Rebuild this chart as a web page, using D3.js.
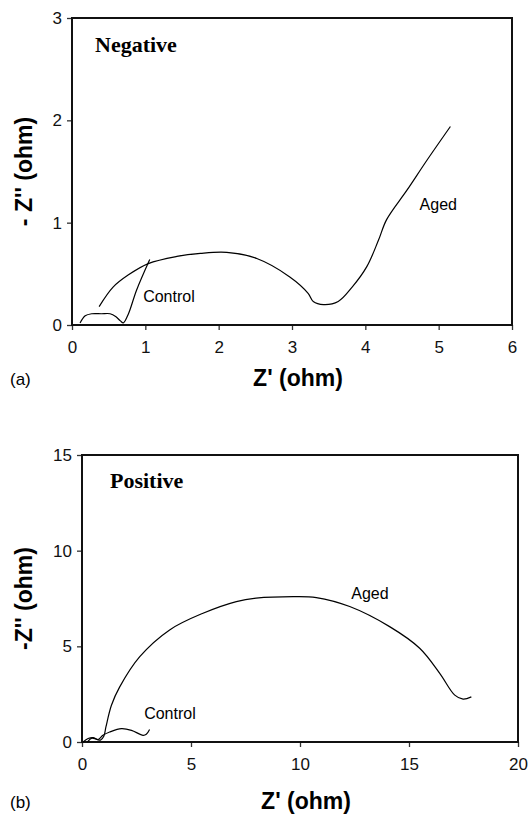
<!DOCTYPE html>
<html>
<head>
<meta charset="utf-8">
<script src="https://cdn.jsdelivr.net/npm/d3@7"></script>
<style>
  body { margin: 0; background: #fff; }
  svg { display: block; }
</style>
</head>
<body>
<svg id="chart" width="531" height="818"></svg>
<script>
// Negative electrode (a)
const negXTicks = [0, 1, 2, 3, 4, 5, 6];
const negYTicks = [0, 1, 2, 3];
const negControl = [[0.11, 0.02], [0.18, 0.09], [0.27, 0.11], [0.40, 0.11], [0.52, 0.11],
  [0.60, 0.08], [0.66, 0.04], [0.70, 0.02], [0.77, 0.11], [0.88, 0.34], [1.06, 0.64]];
const negAged = [[0.37, 0.18], [0.56, 0.37], [0.77, 0.49], [1.04, 0.60], [1.43, 0.67],
  [1.75, 0.70], [2.11, 0.71], [2.52, 0.65], [2.97, 0.47], [3.22, 0.31], [3.29, 0.23],
  [3.43, 0.20], [3.63, 0.23], [3.82, 0.37], [4.02, 0.57], [4.18, 0.83], [4.29, 1.03],
  [4.57, 1.32], [4.84, 1.61], [5.16, 1.94]];

// Positive electrode (b)
const posXTicks = [0, 5, 10, 15, 20];
const posYTicks = [0, 5, 10, 15];
const posControl = [[0.05, 0.0], [0.28, 0.18], [0.51, 0.23], [0.73, 0.13], [0.96, 0.35],
  [1.27, 0.52], [1.81, 0.70], [2.27, 0.61], [2.80, 0.35], [2.95, 0.40], [3.10, 0.65]];
const posAged = [[0.25, 0.0], [0.45, 0.2], [0.65, 0.15], [0.85, 0.1], [1.0, 0.3], [1.1, 0.8],
  [1.35, 1.92], [1.73, 2.88], [2.65, 4.46], [4.02, 5.86], [5.55, 6.73], [7.08, 7.34],
  [7.99, 7.52], [9.68, 7.60], [10.75, 7.55], [12.28, 7.08], [14.11, 6.03], [15.49, 4.90],
  [16.41, 3.59], [17.10, 2.45], [17.48, 2.24], [17.86, 2.36]];

const svg = d3.select('#chart');

function panel(cfg) {
  const x = d3.scaleLinear().domain(cfg.xDomain).range([cfg.left, cfg.right]);
  const y = d3.scaleLinear().domain(cfg.yDomain).range([cfg.bottom, cfg.top]);
  const g = svg.append('g');

  // axes
  const xAxis = d3.axisBottom(x).tickValues(cfg.xTicks).tickFormat(d3.format('d'))
    .tickSize(5).tickSizeOuter(0).tickPadding(11);
  const yAxis = d3.axisLeft(y).tickValues(cfg.yTicks).tickFormat(d3.format('d'))
    .tickSize(5).tickSizeOuter(0).tickPadding(5);
  const gx = g.append('g').attr('transform', `translate(0,${cfg.bottom})`).call(xAxis);
  const gy = g.append('g').attr('transform', `translate(${cfg.left},0)`).call(yAxis);
  [gx, gy].forEach(a => {
    a.select('.domain').remove();
    a.selectAll('line').attr('stroke', '#333').attr('stroke-width', 1.3);
    a.selectAll('text').attr('font-family', 'Liberation Sans, Arial, sans-serif')
      .attr('font-size', 17).attr('fill', '#111');
  });

  // frame
  g.append('rect')
    .attr('x', cfg.left).attr('y', cfg.top)
    .attr('width', cfg.right - cfg.left).attr('height', cfg.bottom - cfg.top)
    .attr('fill', 'none').attr('stroke', '#111').attr('stroke-width', 2);

  const line = d3.line().x(d => x(d[0])).y(d => y(d[1])).curve(d3.curveCatmullRom);
  [cfg.control, cfg.aged].forEach(s => {
    g.append('path').datum(s).attr('d', line)
      .attr('fill', 'none').attr('stroke', '#000').attr('stroke-width', 1.2);
  });

  // labels
  g.append('text').attr('x', cfg.titleX).attr('y', cfg.titleY)
    .attr('font-family', 'Liberation Serif, Times New Roman, serif')
    .attr('font-weight', 'bold').attr('font-size', 22).text(cfg.title);
  cfg.labels.forEach(l => {
    g.append('text').attr('x', x(l.x)).attr('y', y(l.y))
      .attr('font-family', 'Liberation Sans, Arial, sans-serif')
      .attr('font-size', 16).text(l.text);
  });
  g.append('text')
    .attr('x', (cfg.left + cfg.right) / 2 + 6).attr('y', cfg.xTitleY)
    .attr('text-anchor', 'middle')
    .attr('font-family', 'Liberation Sans, Arial, sans-serif')
    .attr('font-weight', 'bold').attr('font-size', 23).text("Z' (ohm)");
  g.append('text')
    .attr('transform', `translate(32,${(cfg.top + cfg.bottom) / 2}) rotate(-90)`)
    .attr('text-anchor', 'middle')
    .attr('font-family', 'Liberation Sans, Arial, sans-serif')
    .attr('font-weight', 'bold').attr('font-size', 23).text(cfg.yTitle);
  g.append('text').attr('x', 10).attr('y', cfg.xTitleY - 1)
    .attr('font-family', 'Liberation Sans, Arial, sans-serif')
    .attr('font-size', 17).text(cfg.tag);
}

panel({
  left: 72, right: 512, top: 18, bottom: 325,
  xDomain: [0, 6], yDomain: [0, 3], xTicks: negXTicks, yTicks: negYTicks,
  control: negControl, aged: negAged,
  title: 'Negative', titleX: 95, titleY: 52,
  labels: [{ text: 'Control', x: 0.97, y: 0.22 }, { text: 'Aged', x: 4.74, y: 1.12 }],
  xTitleY: 386, yTitle: "- Z'' (ohm)", tag: '(a)'
});

panel({
  left: 82, right: 518, top: 455, bottom: 742,
  xDomain: [0, 20], yDomain: [0, 15], xTicks: posXTicks, yTicks: posYTicks,
  control: posControl, aged: posAged,
  title: 'Positive', titleX: 110, titleY: 488,
  labels: [{ text: 'Control', x: 2.85, y: 1.18 }, { text: 'Aged', x: 12.35, y: 7.5 }],
  xTitleY: 809, yTitle: "-Z'' (ohm)", tag: '(b)'
});
</script>
</body>
</html>
